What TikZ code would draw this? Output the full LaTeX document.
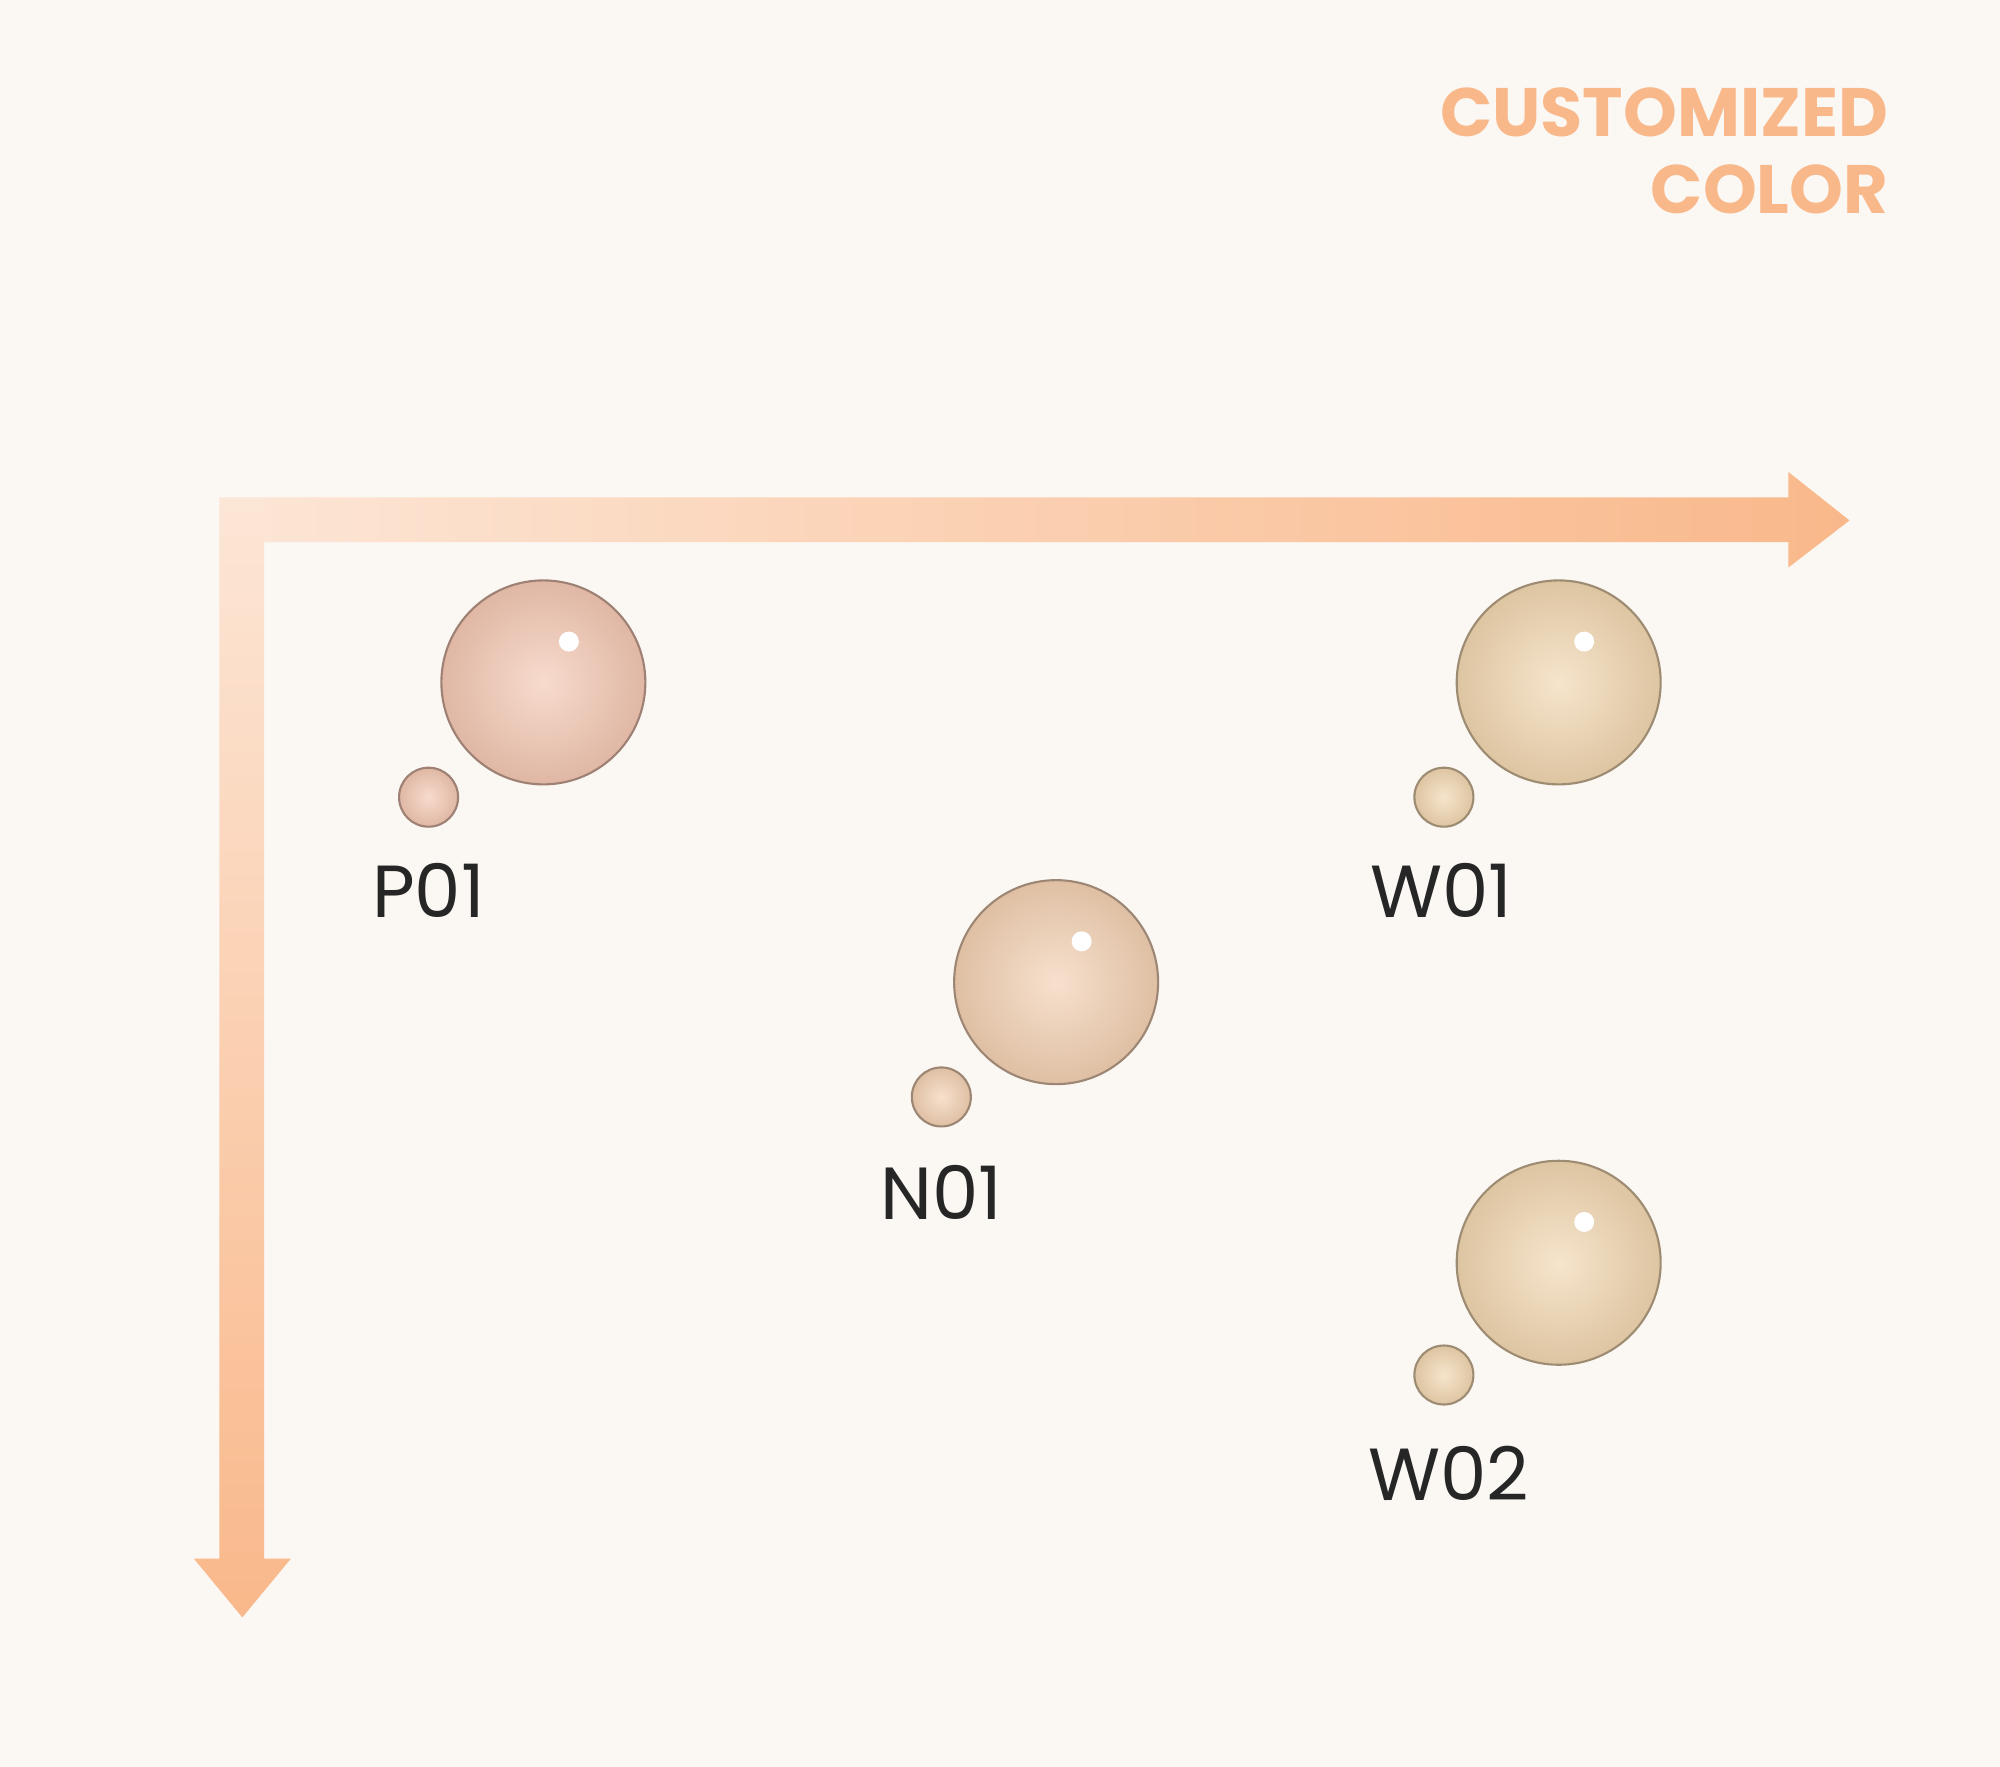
\documentclass[tikz,border=0pt]{standalone}
\usepackage{fontspec}
\setmainfont{Poppins}
\usetikzlibrary{positioning}
\definecolor{bgcol}{HTML}{FBF7F3}
\definecolor{axcol}{HTML}{F9B88A}
\definecolor{axlight}{HTML}{FCE6D6}
\definecolor{pink}{HTML}{F3C7B2}
\definecolor{nude}{HTML}{F2D0B2}
\definecolor{warm}{HTML}{F1D6B0}
\tikzset{
  drop/.style={circle, minimum size=#1, inner sep=0pt, draw=black!35!#1, line width=0.6pt,
    inner color=white!35!#1, outer color=black!8!#1},
  bigdrop/.style={drop=#1, minimum size=2.04cm},
  smalldrop/.style={drop=#1, minimum size=0.59cm},
  shine/.style={circle, fill=white, inner sep=0pt, minimum size=0.2cm},
  shade label/.style={font=\fontsize{21}{23}\selectfont, text=black!85},
}
\begin{document}
\begin{tikzpicture}[x=0.012755cm, y=-0.012755cm]
  \useasboundingbox (0,0) rectangle (1568,1385);
  \fill[bgcol] (0,0) rectangle (1568,1385);

  % axes
  \shade[left color=axlight, right color=axcol]
    (172,390) -- (1402,390) -- (1402,370) -- (1450,408) -- (1402,445)
    -- (1402,425) -- (207,425) -- (207,390) -- cycle;
  \shade[top color=axlight, bottom color=axcol]
    (172,390) -- (207,390) -- (207,1222) -- (228,1222) -- (190,1268)
    -- (152,1222) -- (172,1222) -- cycle;

  \node[anchor=east, align=right, text=axcol, font=\bfseries\fontsize{19.5}{22}\selectfont]
    (title) at (1490,118) {CUSTOMIZED\\COLOR};

  % P01
  \node[bigdrop=pink] (p1) at (426,535) {};
  \node[shine] at (446,503) {};
  \node[smalldrop=pink] (p1s) at (336,625) {};
  \node[shade label] (p1l) at (336,698) {P01};
  % W01
  \node[bigdrop=warm] (w1) at (1222,535) {};
  \node[shine] at (1242,503) {};
  \node[smalldrop=warm] (w1s) at (1132,625) {};
  \node[shade label] (w1l) at (1130,698) {W01};
  % N01
  \node[bigdrop=nude] (n1) at (828,770) {};
  \node[shine] at (848,738) {};
  \node[smalldrop=nude] (n1s) at (738,860) {};
  \node[shade label] (n1l) at (738,935) {N01};
  % W02
  \node[bigdrop=warm] (w2) at (1222,990) {};
  \node[shine] at (1242,958) {};
  \node[smalldrop=warm] (w2s) at (1132,1078) {};
  \node[shade label] (w2l) at (1136,1155) {W02};
\end{tikzpicture}
\end{document}
